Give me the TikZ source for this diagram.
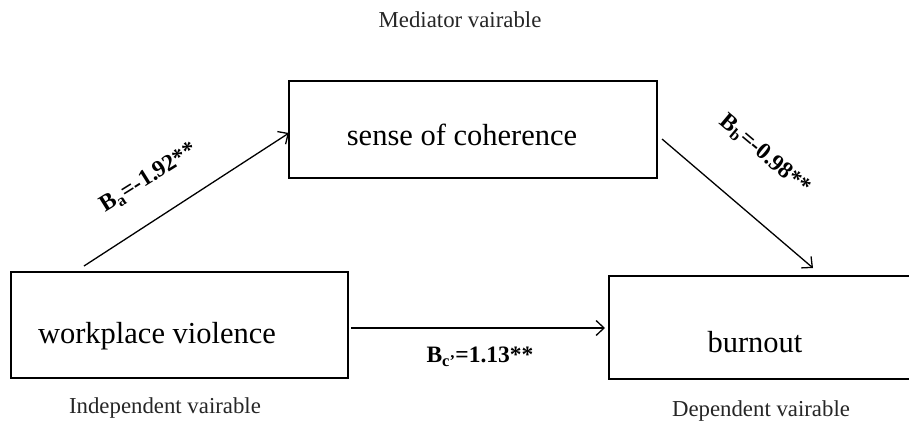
\documentclass[tikz,border=0pt]{standalone}
\usepackage{fontspec}
\setmainfont{Liberation Serif}
\usetikzlibrary{arrows.meta}
\begin{document}
\begin{tikzpicture}[x=1pt,y=-1pt,
  varbox/.style={draw=black, line width=2pt, inner sep=0pt, fill=none},
  boxtext/.style={font=\fontsize{30.5}{34}\selectfont, anchor=base, inner sep=0pt},
  roletext/.style={font=\fontsize{22.8}{26}\selectfont, text=black!85, inner sep=0pt},
  coef/.style={font=\bfseries\fontsize{23.5}{27}\selectfont, inner sep=0pt},
  conn/.style={line width=1.3pt, -{Straight Barb[length=8pt,width=15pt,line width=1.3pt]}}]
\clip (0,0) rectangle (909,428);
\fill[white] (0,0) rectangle (909,428);
% boxes
\node[varbox, minimum width=337pt, minimum height=106pt] (wv) at (179.5,325) {};
\node[varbox, minimum width=368pt, minimum height=97pt] (soc) at (473,129.5) {};
\node[varbox, minimum width=391pt, minimum height=103pt] (bo) at (804.5,327.5) {};
% box texts
\node[boxtext] (wvt) at (157,343) {workplace violence};
\node[boxtext] (soct) at (462,145) {sense of coherence};
\node[boxtext] (bot) at (755,352) {burnout};
% role texts
\node[roletext] (med) at (460,20) {Mediator vairable};
\node[roletext] (ind) at (165,408) {Independent vairable};
\node[roletext] (dep) at (761,411) {Dependent vairable};
% connectors
\draw[conn] ([shift={(74pt,5pt)}]wv.north west) -- ([shift={(1pt,-3.5pt)}]soc.west);
\draw[conn] ([shift={(4pt,-9.5pt)}]soc.east) -- ([shift={(205pt,7pt)}]bo.north west);
\draw[conn] ([shift={(2pt,-3pt)}]wv.east) -- ([shift={(-3pt,-0.5pt)}]bo.west);
% coefficients
\node[coef, rotate=32] (ba) at (149,178) {B\textsubscript{a}=-1.92**};
\node[coef, rotate=-40] (bb) at (765,155) {B\textsubscript{b}=-0.98**};
\node[coef] (bc) at (480,357) {B\textsubscript{c'}=1.13**};
\end{tikzpicture}
\end{document}
